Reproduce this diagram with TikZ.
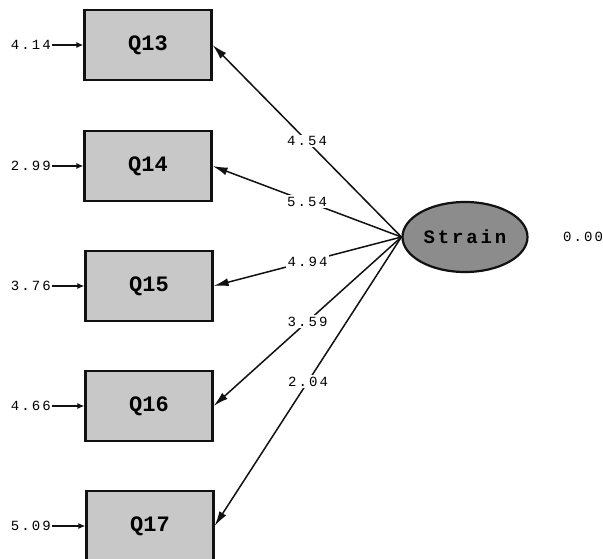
\documentclass[tikz,border=0pt]{standalone}
\usepackage{fontspec}
\setmonofont{Liberation Mono}
\newfontfamily\spacedmono[LetterSpace=15]{Liberation Mono}
\usepackage{xcolor}
\usepackage{tikz}
\usetikzlibrary{arrows.meta, positioning, shapes.geometric}
\definecolor{cBOX}{HTML}{C8C8C8}
\definecolor{cLAT}{HTML}{8C8C8C}
\definecolor{cINK}{HTML}{111111}

\begin{document}
\begin{tikzpicture}[
  x=1pt, y=-1pt,
  font=\spacedmono\fontsize{14}{16}\selectfont,
  obs/.style={draw=cINK, line width=2.2pt, rectangle, minimum width=127pt, minimum height=70pt, fill=cBOX, font=\ttfamily\bfseries\fontsize{22}{24}\selectfont},
  lat/.style={draw=cINK, line width=2.2pt, ellipse, minimum width=125pt, minimum height=70pt, inner sep=0pt, fill=cLAT, font=\spacedmono\bfseries\fontsize{19}{21}\selectfont},
  err/.style={anchor=east, inner sep=1pt},
  load/.style={fill=white, inner sep=1.5pt},
  arr/.style={-{Latex[length=15pt, width=8pt]}, line width=1.5pt, draw=cINK},
  earr/.style={-{Latex[length=7pt, width=6pt]}, line width=2.6pt, draw=cINK}
]
\useasboundingbox (0,0) rectangle (603,559);
\fill[white] (0,0) rectangle (603,559);

\node[obs] (q13) at (148,45)  {Q13};
\node[obs] (q14) at (148,166) {Q14};
\node[obs] (q15) at (149,286) {Q15};
\node[obs] (q16) at (149,406) {Q16};
\node[obs] (q17) at (150,526) {Q17};

\node[lat] (strain) at (465,237) {Strain};
\node (var) at (583,237) {0.00};

\node[err] (e13) at (52,45)  {4.14};
\node[err] (e14) at (52,166) {2.99};
\node[err] (e15) at (52,286) {3.76};
\node[err] (e16) at (52,406) {4.66};
\node[err] (e17) at (52,526) {5.09};

\draw[earr] (e13) -- (q13);
\draw[earr] (e14) -- (q14);
\draw[earr] (e15) -- (q15);
\draw[earr] (e16) -- (q16);
\draw[earr] (e17) -- (q17);

\draw[arr] (strain.west) -- node[load] {4.54} (q13.east);
\draw[arr] (strain.west) -- node[load] {5.54} (q14.east);
\draw[arr] (strain.west) -- node[load] {4.94} (q15.east);
\draw[arr] (strain.west) -- node[load] {3.59} (q16.east);
\draw[arr] (strain.west) -- node[load] {2.04} (q17.east);
\end{tikzpicture}
\end{document}
